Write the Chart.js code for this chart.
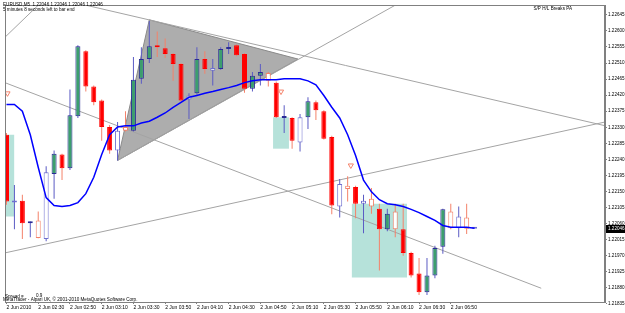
<!DOCTYPE html>
<html>
<head>
<meta charset="utf-8">
<script src="https://cdn.jsdelivr.net/npm/chart.js@4.4.1/dist/chart.umd.min.js"></script>
<style>
  html, body { margin: 0; padding: 0; background: #fff; }
</style>
</head>
<body>
<canvas id="chart" width="625" height="313"></canvas>
<script>
// EURUSD M5, 2 Jun 2010 - one entry per bar (bar 0 = 02:10)
const opens = [1.22309, 1.22119, 1.22124, 1.22061, 1.22069, 1.22017, 1.22199, 1.22254, 1.22215, 1.22361,
    1.22543, 1.22444, 1.22405, 1.22331, 1.22265, 1.22331, 1.22320, 1.22466, 1.22521, 1.22557,
    1.22551, 1.22535, 1.22507, 1.22408, 1.22425, 1.22521, 1.22488, 1.22493, 1.22549, 1.22560,
    1.22535, 1.22438, 1.22474, 1.22482, 1.22455, 1.22356, 1.22356, 1.22287, 1.22358, 1.22400,
    1.22375, 1.22303, 1.22108, 1.22166, 1.22163, 1.22116, 1.22130, 1.22102, 1.22044, 1.22094,
    1.22044, 1.21978, 1.21920, 1.21868, 1.21915, 1.21995, 1.22094, 1.22047, 1.22077, 1.22046];
const highs = [1.22314, 1.22168, 1.22141, 1.22066, 1.22094, 1.22221, 1.22265, 1.22256, 1.22436, 1.22560,
    1.22546, 1.22447, 1.22408, 1.22336, 1.22345, 1.22375, 1.22527, 1.22554, 1.22628, 1.22598,
    1.22579, 1.22538, 1.22510, 1.22425, 1.22554, 1.22543, 1.22521, 1.22554, 1.22568, 1.22562,
    1.22538, 1.22485, 1.22507, 1.22485, 1.22458, 1.22392, 1.22358, 1.22367, 1.22414, 1.22405,
    1.22378, 1.22306, 1.22185, 1.22193, 1.22166, 1.22141, 1.22160, 1.22116, 1.22102, 1.22116,
    1.22116, 1.21981, 1.21964, 1.21964, 1.21998, 1.22102, 1.22116, 1.22108, 1.22116, 1.22046];
const lows = [1.22113, 1.22044, 1.22017, 1.22022, 1.22019, 1.22011, 1.22130, 1.22182, 1.22210, 1.22356,
    1.22430, 1.22392, 1.22292, 1.22256, 1.22237, 1.22318, 1.22318, 1.22452, 1.22510, 1.22527,
    1.22524, 1.22460, 1.22403, 1.22353, 1.22419, 1.22480, 1.22447, 1.22491, 1.22535, 1.22529,
    1.22427, 1.22430, 1.22447, 1.22444, 1.22356, 1.22314, 1.22270, 1.22262, 1.22325, 1.22350,
    1.22296, 1.22086, 1.22077, 1.22122, 1.22075, 1.22033, 1.22088, 1.21929, 1.22039, 1.22022,
    1.21970, 1.21909, 1.21860, 1.21860, 1.21907, 1.21976, 1.22044, 1.22022, 1.22031, 1.22046];
const closes = [1.22122, 1.22120, 1.22061, 1.22064, 1.22020, 1.22204, 1.22256, 1.22215, 1.22364, 1.22557,
    1.22444, 1.22400, 1.22331, 1.22265, 1.22320, 1.22320, 1.22463, 1.22521, 1.22557, 1.22554,
    1.22535, 1.22507, 1.22405, 1.22419, 1.22521, 1.22493, 1.22496, 1.22549, 1.22554, 1.22532,
    1.22438, 1.22474, 1.22485, 1.22460, 1.22358, 1.22358, 1.22292, 1.22358, 1.22403, 1.22378,
    1.22298, 1.22111, 1.22171, 1.22157, 1.22116, 1.22124, 1.22108, 1.22044, 1.22088, 1.22044,
    1.21978, 1.21915, 1.21868, 1.21915, 1.21992, 1.22100, 1.22047, 1.22080, 1.22046, 1.22046];
// 1 = plain (hollow) candle, 0 = candle painted by the indicator
const hollow = [0, 1, 0, 0, 1, 1, 0, 0, 0, 0, 0, 0, 0, 0, 1, 1, 0, 0, 0, 0,
    0, 0, 0, 1, 0, 0, 1, 0, 0, 0, 0, 0, 0, 1, 0, 0, 0, 1, 0, 0,
    0, 0, 1, 1, 0, 1, 1, 0, 0, 1, 0, 0, 0, 0, 0, 0, 1, 1, 1, 1];
// Moving average (blue)
const ma = [1.22394, 1.22394, 1.22375, 1.22309, 1.22218, 1.22133, 1.22111, 1.22108, 1.22111, 1.22119,
    1.22144, 1.22190, 1.22254, 1.22309, 1.22331, 1.22334, 1.22334, 1.22342, 1.22347, 1.22358,
    1.22370, 1.22386, 1.22400, 1.22414, 1.22419, 1.22425, 1.22430, 1.22436, 1.22441, 1.22447,
    1.22455, 1.22460, 1.22463, 1.22463, 1.22463, 1.22466, 1.22466, 1.22466, 1.22460, 1.22449,
    1.22419, 1.22386, 1.22356, 1.22309, 1.22251, 1.22182, 1.22149, 1.22127, 1.22116, 1.22113,
    1.22108, 1.22100, 1.22091, 1.22080, 1.22069, 1.22055, 1.22050, 1.22050, 1.22050, 1.22047];

const timeLabels = ['2 Jun 2010', '2 Jun 02:30', '2 Jun 02:50', '2 Jun 03:10', '2 Jun 03:30',
    '2 Jun 03:50', '2 Jun 04:10', '2 Jun 04:30', '2 Jun 04:50', '2 Jun 05:10', '2 Jun 05:30',
    '2 Jun 05:50', '2 Jun 06:10', '2 Jun 06:30', '2 Jun 06:50'];
const priceTicks = [1.22645, 1.22600, 1.22555, 1.22510, 1.22465, 1.22420, 1.22375, 1.22330, 1.22285,
    1.22240, 1.22195, 1.22150, 1.22105, 1.22060, 1.22015, 1.21970, 1.21925, 1.21880, 1.21835];

// Chart objects (bar index, price)
const trendLines = [
    [[-0.2, 1.22455], [67.4, 1.21879]],
    [[-0.2, 1.22582], [4, 1.22672]],
    [[10, 1.22672], [75.5, 1.22334]],
    [[-0.2, 1.21978], [75.5, 1.22345]],
    [[14, 1.22237], [49, 1.22672]]
];
const triangleTop = [[14, 1.22237], [18, 1.22631], [36.75, 1.22521]];
const triangleBottom = [[14, 1.22237], [36.75, 1.22521]];
// [from bar, to bar, top price, bottom price]
const boxes = [
    [-0.2, 1, 1.22309, 1.22080],
    [33.6, 35.6, 1.22358, 1.22270],
    [43.5, 50.5, 1.22116, 1.21909]
];
const arrowBars = [0.125, 34.6, 43.4];
const arrowPrices = [1.22425, 1.22430, 1.22223];

const bars = opens.map((_, i) => i);
const isBull = i => closes[i] >= opens[i];
const pts = arr => arr.map(p => ({ x: p[0], y: p[1] }));

const datasets = [];

// Rectangles
boxes.forEach(b => {
    datasets.push({ type: 'line', data: pts([[b[0], b[2]], [b[1], b[2]]]), borderColor: 'rgba(0,0,0,0)',
        borderWidth: 0, pointRadius: 0, fill: false, order: 9 });
    datasets.push({ type: 'line', data: pts([[b[0], b[3]], [b[1], b[3]]]), borderColor: 'rgba(0,0,0,0)',
        borderWidth: 0, pointRadius: 0, fill: '-1', backgroundColor: '#b6e2da', order: 9 });
});

// Triangle
datasets.push({ type: 'line', data: pts(triangleTop), borderColor: '#8a8a8a', borderWidth: 1,
    pointRadius: 0, fill: false, order: 9 });
datasets.push({ type: 'line', data: pts(triangleBottom), borderColor: '#8a8a8a', borderWidth: 1,
    pointRadius: 0, fill: '-1', backgroundColor: '#adadad', order: 9 });

// Trend lines
trendLines.forEach(l => {
    datasets.push({ type: 'line', data: pts(l), borderColor: '#a4a4a4', borderWidth: 1,
        pointRadius: 0, fill: false, order: 8 });
});

// Candle wicks
datasets.push({
    type: 'bar',
    data: bars.map(i => ({ x: i, y: [lows[i], highs[i]] })),
    backgroundColor: bars.map(i => isBull(i) ? '#5b5bc4' : '#f4826a'),
    borderWidth: 0,
    barThickness: 1,
    inflateAmount: 0,
    grouped: false,
    order: 5
});

// Candle bodies
datasets.push({
    type: 'bar',
    data: bars.map(i => ({ x: i, y: [opens[i], closes[i]] })),
    backgroundColor: bars.map(i => hollow[i] ? '#ffffff' : (isBull(i) ? '#3c9e6e' : '#ff0000')),
    borderColor: bars.map(i => isBull(i) ? (hollow[i] ? '#6f6fd0' : '#2a2a96') : (hollow[i] ? '#f4826a' : '#ff0000')),
    borderWidth: 1,
    borderSkipped: false,
    barThickness: 5,
    minBarLength: 2,
    inflateAmount: 0,
    grouped: false,
    order: 4
});

// Moving average
datasets.push({
    type: 'line',
    data: bars.map(i => ({ x: i, y: ma[i] })),
    borderColor: '#0000ff',
    borderWidth: 1.5,
    pointRadius: 0,
    tension: 0,
    fill: false,
    order: 3
});

// Arrows
datasets.push({
    type: 'line',
    showLine: false,
    data: arrowBars.map((x, k) => ({ x: x, y: arrowPrices[k] })),
    pointStyle: 'triangle',
    rotation: 180,
    pointRadius: 3,
    pointBackgroundColor: '#ffffff',
    pointBorderColor: '#f4826a',
    pointBorderWidth: 1,
    order: 1
});

// Frame, texts and current price marker
const overlay = {
    id: 'overlay',
    afterDraw(chart) {
        const { ctx, chartArea: a, scales: { y } } = chart;
        ctx.save();
        ctx.strokeStyle = '#808080';
        ctx.lineWidth = 1;
        ctx.strokeRect(a.left + 0.5, a.top + 0.5, a.width - 1, a.height);

        ctx.font = '4.6px "Liberation Sans"';
        ctx.textBaseline = 'middle';
        ctx.fillStyle = '#000';
        ctx.textAlign = 'left';
        ctx.fillText('EURUSD,M5  1.22046 1.22046 1.22046 1.22046', 3, 4.5);
        ctx.fillText('5 minutes 8 seconds left to bar end', 3, 10);
        ctx.fillText('Spread =', 5, 296.5);
        ctx.fillText('0.9', 36, 295.5);
        ctx.fillText('MetaTrader - Alpari UK, \u00a9 2001-2010 MetaQuotes Software Corp.', 3, 300);
        ctx.textAlign = 'right';
        ctx.fillText('S/P H/L Breaks PA', 572, 8.5);

        const last = closes[closes.length - 1];
        const py = Math.round(y.getPixelForValue(last));
        ctx.fillStyle = '#000';
        ctx.fillRect(a.right + 1, py - 4, 20, 8);
        ctx.fillStyle = '#fff';
        ctx.textAlign = 'left';
        ctx.fillText(last.toFixed(5), a.right + 3, py);
        ctx.restore();
    }
};

Chart.defaults.font.family = '"Liberation Sans", Arial, sans-serif';

new Chart(document.getElementById('chart'), {
    type: 'bar',
    data: { datasets: datasets },
    plugins: [overlay],
    options: {
        responsive: false,
        animation: false,
        devicePixelRatio: 1,
        events: [],
        layout: { padding: 0 },
        plugins: {
            legend: { display: false },
            tooltip: { enabled: false },
            filler: { drawTime: 'beforeDatasetsDraw' }
        },
        scales: {
            x: {
                type: 'linear',
                min: -0.1875,
                max: 75.4375,
                offset: false,
                bounds: 'data',
                grid: { offset: false, drawOnChartArea: false, drawTicks: true, tickLength: 2, color: '#808080' },
                border: { display: true, color: '#808080' },
                ticks: {
                    autoSkip: false,
                    maxRotation: 0,
                    minRotation: 0,
                    align: 'start',
                    padding: 1,
                    color: '#000',
                    font: { size: 5 },
                    callback: (v, idx) => timeLabels[idx]
                },
                afterBuildTicks: s => { s.ticks = timeLabels.map((_, k) => ({ value: k * 4 })); },
                afterFit: s => { s.height = 11; s.paddingLeft = 0; s.paddingRight = 0; }
            },
            y: {
                type: 'linear',
                position: 'right',
                min: 1.218405,
                max: 1.226725,
                bounds: 'data',
                grid: { drawOnChartArea: false, drawTicks: true, tickLength: 2, color: '#808080' },
                border: { display: true, color: '#808080' },
                ticks: {
                    padding: 1,
                    color: '#000',
                    font: { size: 4.6 },
                    callback: v => v.toFixed(5)
                },
                afterBuildTicks: s => { s.ticks = priceTicks.map(v => ({ value: v })); },
                afterFit: s => { s.width = 20; s.paddingTop = 0; s.paddingBottom = 0; }
            }
        }
    }
});
</script>
</body>
</html>
